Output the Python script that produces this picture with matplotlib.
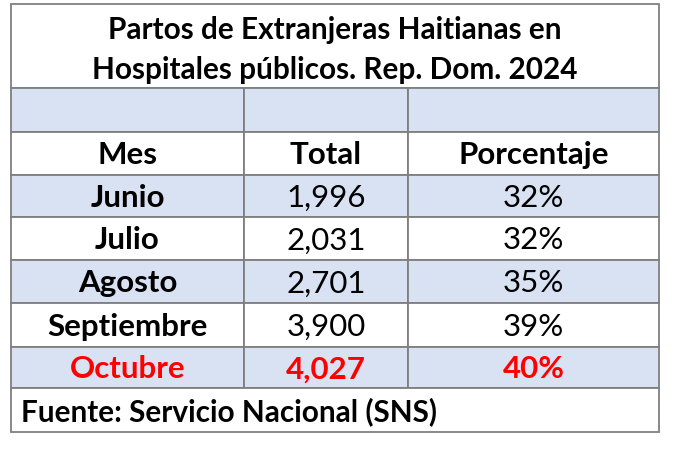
import matplotlib.pyplot as plt
from matplotlib.patches import Rectangle

# table content
title_lines = ["Partos de Extranjeras Haitianas en",
               "Hospitales públicos. Rep. Dom. 2024"]
headers = ["Mes", "Total", "Porcentaje"]
months = ["Junio", "Julio", "Agosto", "Septiembre", "Octubre"]
totals = [1996, 2031, 2701, 3900, 4027]
percents = [32, 32, 35, 39, 40]
source = "Fuente: Servicio Nacional (SNS)"

FONT = "Lato"
BLUE = "#D9E2F3"
RED = "#FF0000"
EDGE = "#7F7F7F"

# layout in pixels
col_x = [11, 244, 408, 659]
row_y = [5, 89, 133, 176, 218, 261, 304, 348, 389, 433]
fs = 22.5
fs_title = 21.4

fig = plt.figure(figsize=(6.8, 4.56), dpi=100)
ax = fig.add_axes([0, 0, 1, 1])
ax.set_xlim(0, 680)
ax.set_ylim(456, 0)
ax.axis("off")

def cell(x0, x1, y0, y1, fill):
    ax.add_patch(Rectangle((x0, y0), x1 - x0, y1 - y0, facecolor=fill,
                           edgecolor=EDGE, linewidth=1.3))

# title block
cell(col_x[0], col_x[-1], row_y[0], row_y[1], "white")
mid = (col_x[0] + col_x[-1]) / 2
ax.text(mid, 30, title_lines[0], ha="center", va="center", fontsize=fs_title,
        fontweight="bold", family=FONT)
ax.text(mid, 70, title_lines[1], ha="center", va="center", fontsize=fs_title,
        fontweight="bold", family=FONT)

# blank blue row
for c in range(3):
    cell(col_x[c], col_x[c + 1], row_y[1], row_y[2], BLUE)

# header row
for c in range(3):
    cell(col_x[c], col_x[c + 1], row_y[2], row_y[3], "white")
    ax.text((col_x[c] + col_x[c + 1]) / 2, (row_y[2] + row_y[3]) / 2 + 1,
            headers[c], ha="center", va="center", fontsize=fs,
            fontweight="bold", family=FONT)

# data rows
for i, (m, t, p) in enumerate(zip(months, totals, percents)):
    y0, y1 = row_y[3 + i], row_y[4 + i]
    fill = BLUE if i % 2 == 0 else "white"
    last = i == len(months) - 1
    color = RED if last else "black"
    vals = [m, f"{t:,}", f"{p}%"]
    for c in range(3):
        cell(col_x[c], col_x[c + 1], y0, y1, fill)
        w = "bold" if (c == 0 or last) else "normal"
        ax.text((col_x[c] + col_x[c + 1]) / 2, (y0 + y1) / 2 + 1, vals[c],
                ha="center", va="center", fontsize=fs, fontweight=w,
                color=color, family=FONT)

# source row
cell(col_x[0], col_x[-1], row_y[-2], row_y[-1], "white")
ax.text(col_x[0] + 10, (row_y[-2] + row_y[-1]) / 2 + 1, source, ha="left",
        va="center", fontsize=fs_title, fontweight="bold", family=FONT)

fig.savefig("out.png", dpi=100)
